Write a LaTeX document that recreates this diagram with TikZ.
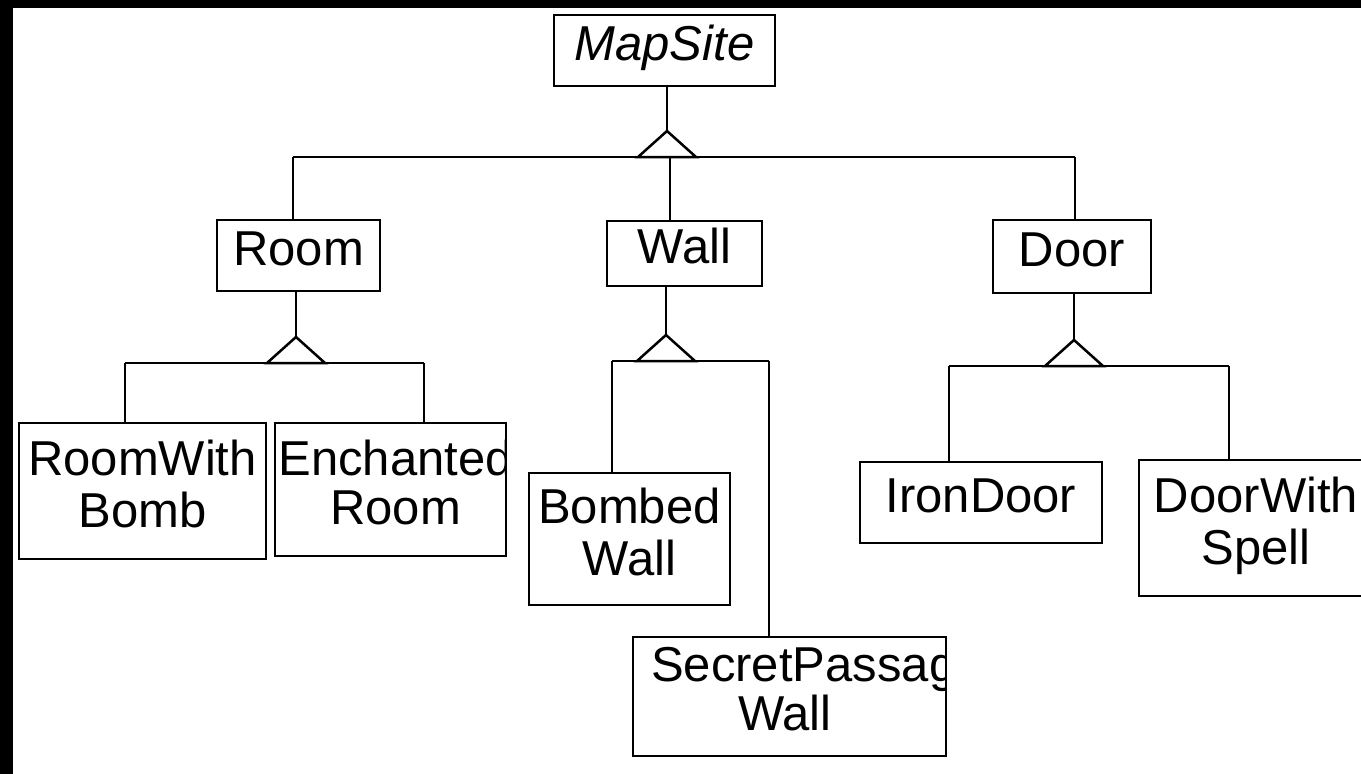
\documentclass[tikz,border=0pt]{standalone}
\usepackage{fontspec}
\setmainfont{Liberation Sans}
\newcommand\clsfont{\fontsize{49}{49}\selectfont}
\begin{document}
\begin{tikzpicture}[x=1pt,y=-1pt,
  cls/.style={draw, line width=2.5pt, inner sep=0pt, font=\clsfont, align=center},
  inner/.style={draw=none, fill=none, inner sep=0pt, font=\clsfont},
  link/.style={line width=2.5pt},
  gen/.style={line width=2.5pt, fill=white, line join=miter}]
\clip (0,0) rectangle (1361,774);
\fill[white] (0,0) rectangle (1361,774);
\fill[black] (0,0) rectangle (13,774);
\fill[black] (0,0) rectangle (1361,8);

% classes
\node[cls, minimum width=221pt, minimum height=71pt] (mapsite) at (664.5,50.5) {\itshape\strut MapSite};
\node[cls, minimum width=163pt, minimum height=71pt] (room) at (298.5,255.5) {\strut Room};
\node[cls, minimum width=155pt, minimum height=65pt] (wall) at (684.5,253.5) {\strut Wall};
\node[cls, minimum width=158pt, minimum height=73pt] (door) at (1072,256.5) {\strut Door};
\node[cls, minimum width=247pt, minimum height=136pt] (rwb) at (142.5,491) {\strut RoomWith\\\strut Bomb};
\node[cls, minimum width=231pt, minimum height=133pt,
  path picture={\node[inner, align=center, xshift=5pt] at (path picture bounding box.center) {\strut Enchanted\\\strut Room};}]
  (er) at (390.5,489.5) {};
\node[cls, minimum width=201pt, minimum height=132pt] (bw) at (629.5,539) {\strut Bombed\\\strut Wall};
\node[cls, minimum width=313pt, minimum height=119pt,
  path picture={
    \node[inner, anchor=base west] at ([xshift=17pt, yshift=14.7pt]path picture bounding box.west) {SecretPassage};
    \node[inner, anchor=base] at ([xshift=-4.5pt, yshift=-34.3pt]path picture bounding box.center) {Wall};}]
  (spw) at (789.5,696.5) {};
\node[cls, minimum width=242pt, minimum height=81pt] (iron) at (981,502.5) {\strut IronDoor};
\node[cls, minimum width=234pt, minimum height=136pt] (dws) at (1256,528) {\strut DoorWith\\\strut Spell};

% MapSite generalization
\coordinate (a1) at (667,131);
\coordinate (j1L) at (293,157);
\coordinate (j1M) at (670,157);
\coordinate (j1R) at (1075,157);
\draw[link] (a1 |- mapsite.south) -- (a1);
\draw[link] (j1L) -- (j1R);
\draw[link] (j1L) -- (j1L |- room.north);
\draw[link] (j1M) -- (j1M |- wall.north);
\draw[link] (j1R) -- (j1R |- door.north);
\draw[gen] (a1) -- ++(-29,26) -- ++(58,0) -- cycle;

% Room generalization
\coordinate (a2) at (296,337);
\coordinate (j2L) at (125,363);
\coordinate (j2R) at (424,363);
\draw[link] (a2 |- room.south) -- (a2);
\draw[link] (j2L) -- (j2R);
\draw[link] (j2L) -- (j2L |- rwb.north);
\draw[link] (j2R) -- (j2R |- er.north);
\draw[gen] (a2) -- ++(-29,26) -- ++(58,0) -- cycle;

% Wall generalization
\coordinate (a3) at (666,335);
\coordinate (j3L) at (612,361);
\coordinate (j3R) at (769,361);
\draw[link] (a3 |- wall.south) -- (a3);
\draw[link] (j3L) -- (j3R);
\draw[link] (j3L) -- (j3L |- bw.north);
\draw[link] (j3R) -- (j3R |- spw.north);
\draw[gen] (a3) -- ++(-29,26) -- ++(58,0) -- cycle;

% Door generalization
\coordinate (a4) at (1074,340);
\coordinate (j4L) at (949,366);
\coordinate (j4R) at (1229,366);
\draw[link] (a4 |- door.south) -- (a4);
\draw[link] (j4L) -- (j4R);
\draw[link] (j4L) -- (j4L |- iron.north);
\draw[link] (j4R) -- (j4R |- dws.north);
\draw[gen] (a4) -- ++(-29,26) -- ++(58,0) -- cycle;
\end{tikzpicture}
\end{document}
